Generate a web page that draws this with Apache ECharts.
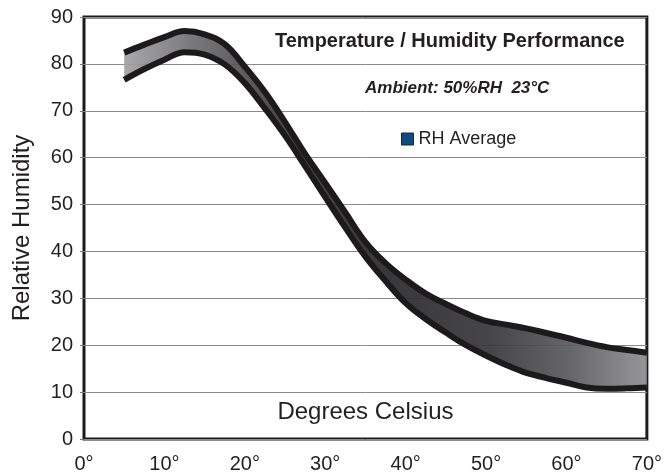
<!DOCTYPE html>
<html>
<head>
<meta charset="utf-8">
<script src="https://cdn.jsdelivr.net/npm/echarts@6/dist/echarts.min.js"></script>
<style>html,body{margin:0;padding:0;background:#fff;}#c{width:665px;height:474px;}</style>
</head>
<body>
<div id="c"></div>
<script>
// Data
var temps    = [5, 7.5, 10, 12.5, 15, 17.5, 20, 22.5, 25, 27.5, 30, 32.5, 35, 37.5, 40, 42.5, 45, 47.5, 50, 52.5, 55, 57.5, 60, 62.5, 65, 67.5, 70];
var rhUpper  = [82.4, 84.1, 85.7, 87.0, 86.3, 84.2, 79.4, 74.0, 67.6, 60.8, 54.6, 48.3, 42.0, 37.5, 34.0, 31.0, 28.8, 26.8, 25.2, 24.4, 23.6, 22.6, 21.6, 20.5, 19.6, 19.0, 18.4];
var rhLower  = [76.6, 78.9, 80.9, 82.5, 82.0, 79.9, 75.9, 70.5, 64.7, 58.2, 51.6, 45.1, 38.9, 33.7, 29.0, 25.6, 22.7, 20.0, 17.8, 15.8, 14.1, 13.0, 12.0, 11.0, 10.7, 10.8, 11.0];
var yTicks   = [0, 10, 20, 30, 40, 50, 60, 70, 80, 90];
var xTicks   = [0, 10, 20, 30, 40, 50, 60, 70];
var titleText   = 'Temperature / Humidity Performance';
var ambientText = 'Ambient: 50%RH  23\u00B0C';
var legendName  = 'RH Average';

var FONT = "'Liberation Sans', Arial, Helvetica, sans-serif";
var TXT = '#231f20';

var upperPairs = temps.map(function (t, i) { return [t, rhUpper[i]]; });
var lowerPairs = temps.map(function (t, i) { return [t, rhLower[i]]; });
var bandData = temps.map(function (t, i) { return [t, rhUpper[i], rhLower[i]]; });

var chart = echarts.init(document.getElementById('c'), null, {renderer: 'canvas'});
chart.setOption({
  backgroundColor: '#ffffff',
  animation: false,
  grid: {
    left: 84, right: 15, top: 17, bottom: 34,
    show: true, borderColor: '#1c1a1b', borderWidth: 3, backgroundColor: 'transparent'
  },
  legend: {
    left: 401, top: 130, padding: 0, itemWidth: 12, itemHeight: 12, itemGap: 8,
    selectedMode: false,
    textStyle: {fontFamily: FONT, fontSize: 18, color: TXT},
    data: [{name: legendName, icon: 'rect', itemStyle: {color: '#134a7e', borderColor: '#0b2a4a', borderWidth: 1}}]
  },
  graphic: [
    {type: 'text', left: 275, top: 31, z: 10,
     style: {text: titleText, font: 'bold 20px ' + FONT, fill: TXT}},
    {type: 'text', left: 365, top: 80, z: 10,
     style: {text: ambientText, font: 'italic bold 17px ' + FONT, fill: TXT}}
  ],
  xAxis: {
    type: 'value', min: xTicks[0], max: xTicks[xTicks.length - 1], interval: 10,
    name: 'Degrees Celsius', nameLocation: 'middle', nameGap: -27,
    nameTextStyle: {fontFamily: FONT, fontSize: 24, color: TXT, verticalAlign: 'middle'},
    axisLine: {show: false}, axisTick: {show: false}, splitLine: {show: false},
    axisLabel: {fontFamily: FONT, fontSize: 20, color: TXT, margin: 15,
      formatter: function (v) { return v + '\u00B0'; }}
  },
  yAxis: {
    type: 'value', min: yTicks[0], max: yTicks[yTicks.length - 1], interval: 10,
    name: 'Relative Humidity', nameLocation: 'middle', nameGap: 62, nameRotate: 90,
    nameTextStyle: {fontFamily: FONT, fontSize: 24, color: TXT, verticalAlign: 'middle'},
    axisLine: {show: false},
    axisTick: {show: true, length: 4, lineStyle: {color: '#777', width: 1}},
    splitLine: {show: true, lineStyle: {color: '#8a8a8a', width: 1}},
    axisLabel: {fontFamily: FONT, fontSize: 20, color: TXT, margin: 11}
  },
  series: [
    {
      name: legendName, type: 'custom', z: 1, clip: true,
      data: bandData,
      encode: {x: 0, y: [1, 2]},
      itemStyle: {color: '#134a7e'},
      renderItem: function (params, api) {
        if (params.dataIndex !== 0) return null;
        var pts = [];
        for (var i = 0; i < temps.length; i++) pts.push(api.coord([temps[i], rhUpper[i]]));
        for (var j = temps.length - 1; j >= 0; j--) pts.push(api.coord([temps[j], rhLower[j]]));
        return {
          type: 'polygon',
          shape: {points: pts},
          style: {
            opacity: 0.93,
            fill: new echarts.graphic.LinearGradient(0, 0, 1, 0, [
              {offset: 0, color: '#a2a2a4'},
              {offset: 0.15, color: '#68686a'},
              {offset: 0.3, color: '#3c3c3e'},
              {offset: 0.5, color: '#29292b'},
              {offset: 0.7, color: '#38383a'},
              {offset: 0.85, color: '#5a5a5c'},
              {offset: 1, color: '#8e8e90'}
            ]),
            stroke: null
          }
        };
      }
    },
    {
      name: 'upper', type: 'line', z: 3, data: upperPairs, symbol: 'none', smooth: 0.4,
      lineStyle: {color: '#1c1a1b', width: 6, cap: 'butt', join: 'round'}, silent: true
    },
    {
      name: 'lower', type: 'line', z: 3, data: lowerPairs, symbol: 'none', smooth: 0.4,
      lineStyle: {color: '#1c1a1b', width: 6, cap: 'butt', join: 'round'}, silent: true
    }
  ]
});
</script>
</body>
</html>
